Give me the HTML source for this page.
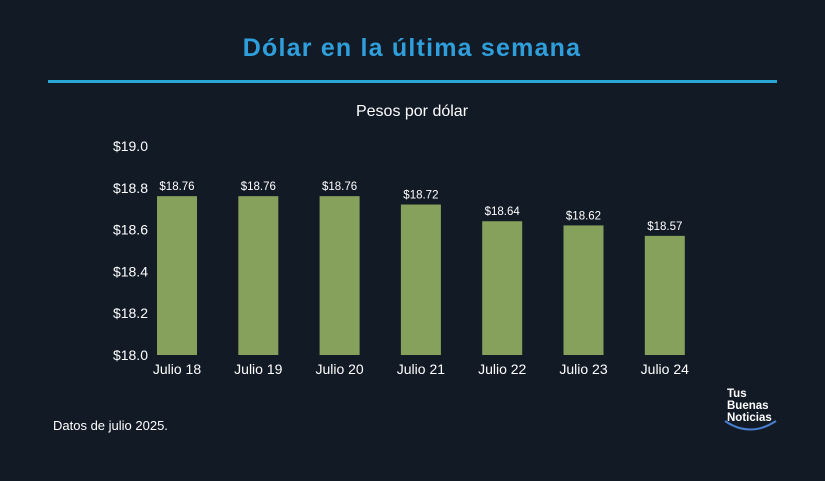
<!DOCTYPE html>
<html><head><meta charset="utf-8"><style>
body{margin:0;background:#121a26;width:825px;height:481px;overflow:hidden;font-family:"Liberation Sans",sans-serif;}
</style></head><body>
<svg width="825" height="481" style="position:absolute;left:0;top:0">
<rect width="825" height="481" fill="#121a26"/>
<text x="412" y="56" text-anchor="middle" fill="#2f9fdb" font-size="25" font-weight="bold" letter-spacing="1.2">Dólar en la última semana</text>
<rect x="48" y="80" width="729" height="3" fill="#2aa6d6"/>
<text x="412" y="116" text-anchor="middle" fill="#ffffff" font-size="16">Pesos por dólar</text>
<g id="axis"></g>
<g id="bars"></g>
<text x="53" y="430" fill="#ffffff" font-size="13">Datos de julio 2025.</text>
<g>
<text x="727" y="397" fill="#fff" font-size="11.5" font-weight="bold">Tus</text>
<text x="727" y="409" fill="#fff" font-size="11.5" font-weight="bold">Buenas</text>
<text x="727" y="421" fill="#fff" font-size="11.5" font-weight="bold">Noticias</text>
<path d="M725 421 Q750 438 776 421" stroke="#4a7fd0" stroke-width="2" fill="none"/>
</g>
</svg>
<script>
const categories=["Julio 18","Julio 19","Julio 20","Julio 21","Julio 22","Julio 23","Julio 24"];
const values=[18.76,18.76,18.76,18.72,18.64,18.62,18.57];
const valueLabels=["$18.76","$18.76","$18.76","$18.72","$18.64","$18.62","$18.57"];
const ticks=[18.0,18.2,18.4,18.6,18.8,19.0];
const tickLabels=["$18.0","$18.2","$18.4","$18.6","$18.8","$19.0"];
const NS="http://www.w3.org/2000/svg";
const yMin=18,yMax=19,y0=355,y1=146;
function y(v){return y0-(v-yMin)/(yMax-yMin)*(y0-y1);}
function x(i){return 177+i*81.3;}
const ax=document.getElementById('axis'),bg=document.getElementById('bars');
ticks.forEach((t,i)=>{const e=document.createElementNS(NS,'text');


e.setAttribute('x',148);e.setAttribute('y',y(t)+5);e.setAttribute('text-anchor','end');e.setAttribute('fill','#fff');e.setAttribute('font-size','14');e.textContent=tickLabels[i];ax.appendChild(e);});
values.forEach((v,i)=>{const r=document.createElementNS(NS,'rect');


r.setAttribute('x',x(i)-20);r.setAttribute('y',y(v));r.setAttribute('width',40);r.setAttribute('height',y0-y(v));r.setAttribute('fill','#86a15c');bg.appendChild(r);
const l=document.createElementNS(NS,'text');


l.setAttribute('x',x(i));l.setAttribute('y',y(v)-6);l.setAttribute('text-anchor','middle');l.setAttribute('fill','#fff');l.setAttribute('font-size','11.5');l.textContent=valueLabels[i];bg.appendChild(l);
const c=document.createElementNS(NS,'text');


c.setAttribute('x',x(i));c.setAttribute('y',374);c.setAttribute('text-anchor','middle');c.setAttribute('fill','#fff');c.setAttribute('font-size','14');c.textContent=categories[i];bg.appendChild(c);});
</script>
</body></html>
